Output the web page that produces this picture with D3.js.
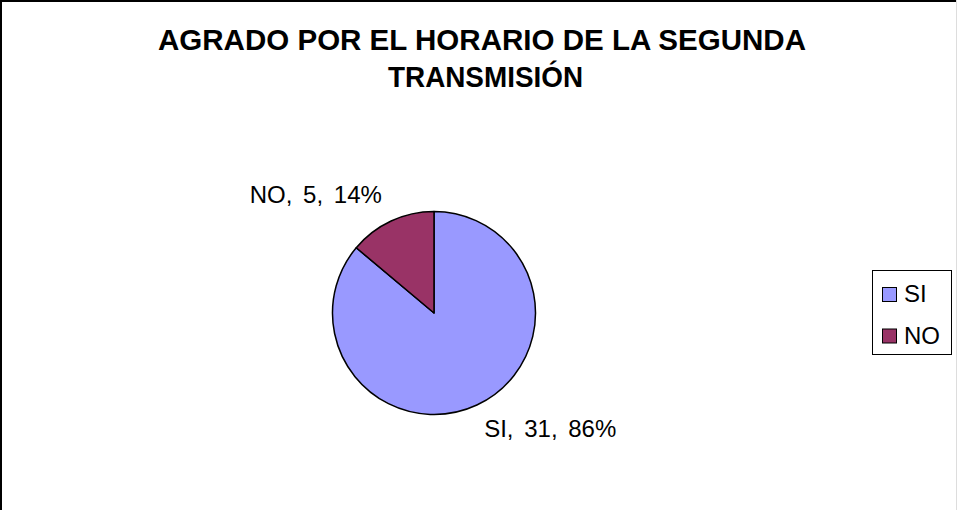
<!DOCTYPE html>
<html><head><meta charset="utf-8">
<script src="https://cdn.jsdelivr.net/npm/d3@7"></script>
<style>body{margin:0;background:#fff}svg{display:block}</style>
</head><body>
<script>
const categories = ["SI", "NO"];
const values = [31, 5];
const percents = ["86%", "14%"];
const colors = ["#9999FF", "#993366"];
const titleLines = ["AGRADO POR EL HORARIO DE LA SEGUNDA", "TRANSMISIÓN"];

const W = 957, H = 510;
const svg = d3.select("body").append("svg").attr("width", W).attr("height", H);
const font = "Arial, 'Liberation Sans', sans-serif";

// frame
svg.append("line").attr("x1",0).attr("y1",1).attr("x2",956).attr("y2",1).attr("stroke","#000").attr("stroke-width",2);
svg.append("line").attr("x1",1).attr("y1",0).attr("x2",1).attr("y2",H).attr("stroke","#000").attr("stroke-width",2);
svg.append("line").attr("x1",956.5).attr("y1",0).attr("x2",956.5).attr("y2",H).attr("stroke","#ddd").attr("stroke-width",1);

// title
const titleLayout = [{x:158, y:50, len:648}, {x:388, y:87, len:195}];
svg.append("g").selectAll("text").data(titleLines).join("text")
  .attr("x", (d,i) => titleLayout[i].x).attr("y", (d,i) => titleLayout[i].y)
  .attr("textLength", (d,i) => titleLayout[i].len).attr("lengthAdjust","spacingAndGlyphs")
  .attr("font-family",font).attr("font-weight","bold")
  .attr("font-size",29.5).attr("fill","#000").text(d => d);

// pie
const cx = 434, cy = 313, R = 101.5;
const data = categories.map((c,i) => ({cat:c, value:values[i], pct:percents[i], color:colors[i]}));
const pie = d3.pie().sort(null).value(d => d.value).startAngle(0).endAngle(2*Math.PI);
const arcs = pie(data);
const arc = d3.arc().innerRadius(0).outerRadius(R);
const g = svg.append("g").attr("transform", `translate(${cx},${cy})`);
g.selectAll("path").data(arcs).join("path")
  .attr("d", arc).attr("fill", d => d.data.color)
  .attr("stroke","#000").attr("stroke-width",1.5).attr("stroke-linejoin","round");

// labels
const LR = 114, fs = 24;
g.selectAll("text.lbl").data(arcs).join("text").attr("class","lbl")
  .each(function(d){
    const a = (d.startAngle + d.endAngle)/2;
    const x = LR*Math.sin(a), y = -LR*Math.cos(a);
    const t = d3.select(this);
    const left = Math.sin(a) < 0;
    t.attr("x", left ? x - 4 : x + 2).attr("text-anchor", left ? "end" : "start");
    t.attr("y", Math.cos(a) > 0 ? y - 7 : y + 21);
  })
  .attr("font-family",font).attr("font-size",fs).attr("word-spacing",4).attr("fill","#000")
  .text(d => `${d.data.cat}, ${d.data.value}, ${d.data.pct}`);

// legend
const lg = svg.append("g");
lg.append("rect").attr("x",872.5).attr("y",270.5).attr("width",79).attr("height",84)
  .attr("fill","#fff").attr("stroke","#000").attr("stroke-width",1);
const items = lg.selectAll("g.item").data(data).join("g").attr("class","item")
  .attr("transform",(d,i)=>`translate(882,${287 + i*41.5})`);
items.append("rect").attr("x",0.5).attr("y",0.5).attr("width",14).attr("height",14)
  .attr("fill",d=>d.color).attr("stroke","#000").attr("stroke-width",1);
items.append("text").attr("x",22).attr("y",15).attr("font-family",font).attr("font-size",24)
  .attr("fill","#000").text(d=>d.cat);
</script>
</body></html>
